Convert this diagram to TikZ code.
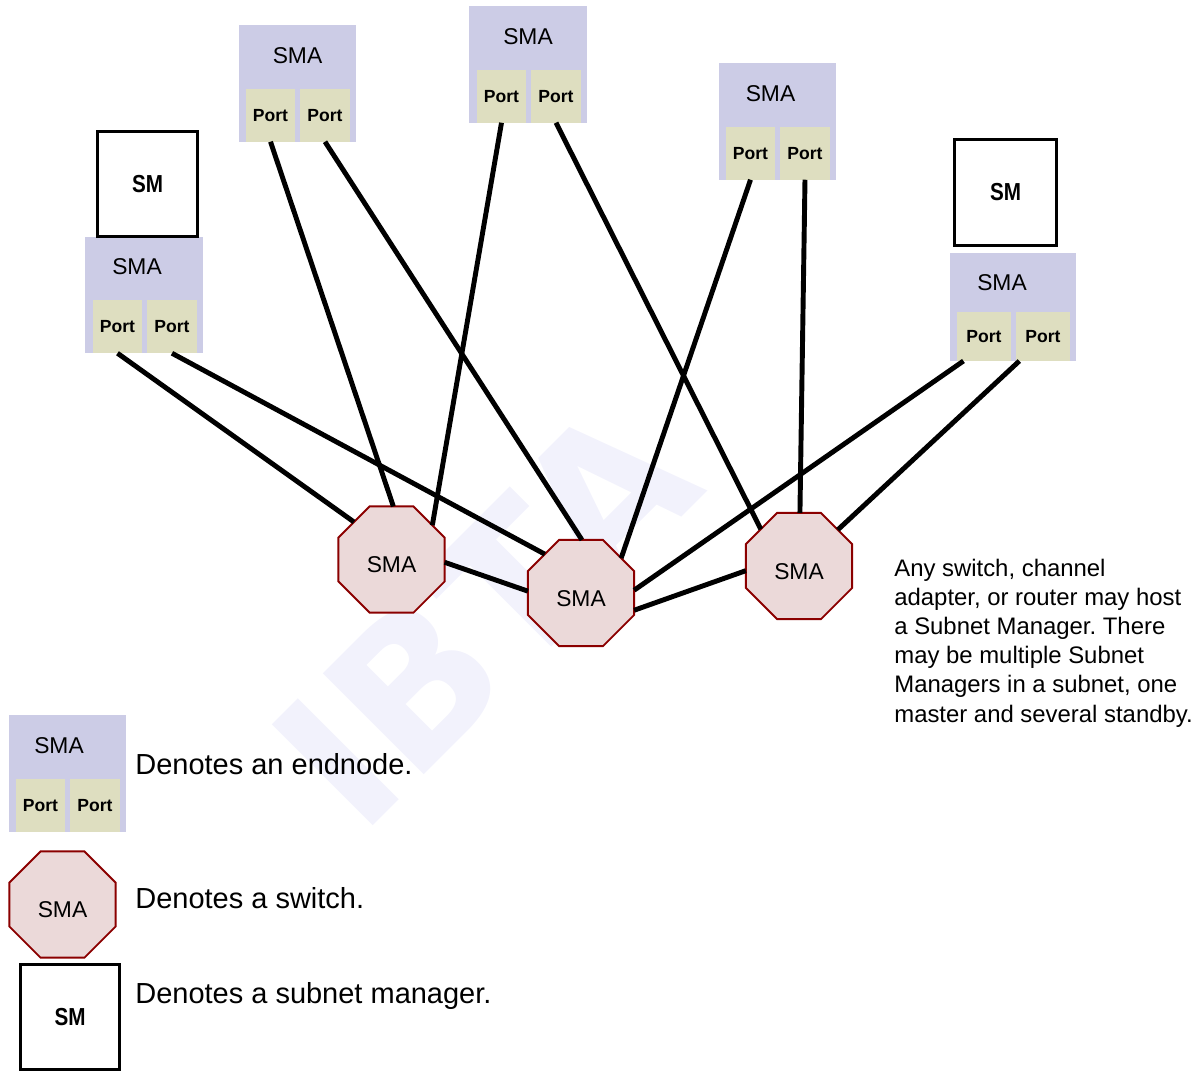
\documentclass[tikz,border=0pt]{standalone}
\usepackage{fontspec}
\setmainfont{Liberation Sans}
\newfontfamily\wmfont{DejaVu Sans}
\usepackage{graphicx}
\usetikzlibrary{positioning,shapes.geometric}
\frenchspacing

\definecolor{enlav}{RGB}{204,204,230}
\definecolor{portbg}{RGB}{222,222,192}
\definecolor{swfill}{RGB}{235,217,217}
\definecolor{swline}{RGB}{139,0,0}
\definecolor{wmark}{RGB}{242,242,252}

\tikzset{
    endnode/.style={fill=enlav, inner sep=0pt, outer sep=0pt, minimum width=2.35cm, minimum height=2.33cm},
    port/.style={fill=portbg, inner sep=0pt, outer sep=0pt, minimum width=0.99cm, minimum height=1.06cm, font=\bfseries\fontsize{10}{12}\selectfont},
    smalabel/.style={inner sep=0pt, font=\fontsize{13}{15}\selectfont},
    switch/.style={regular polygon, regular polygon sides=8, minimum size=2.3cm, inner sep=0pt, outer sep=0pt, draw=swline, line width=1.1pt, fill=swfill, text height=15pt, text depth=0pt, font=\fontsize{13}{15}\selectfont},
    smbox/.style={draw, line width=1.7pt, inner sep=0pt, minimum width=2.0cm, minimum height=2.1cm, font=\bfseries\fontsize{14}{16}\selectfont},
    link/.style={line width=2.8pt},
    legend/.style={anchor=base west, inner sep=0pt, font=\fontsize{16.5}{20}\selectfont}
}

\begin{document}
\begin{tikzpicture}[x=0.02cm, y=-0.02cm]
    \useasboundingbox (0,0) rectangle (1201,1072);
    \node[rotate=45, inner sep=0pt, text=wmark, font=\wmfont\bfseries\fontsize{111.5}{112}\selectfont] (wm) at (484,614) {IBTA};

    % endnodes
    \node[endnode] (e1) at (144,295) {};
        \node[port, above right=0cm and 0.15cm of e1.south west] (e1a) {Port};
        \node[port, right=0.1cm of e1a] (e1b) {Port};
        \node[smalabel] (e1t) at ([xshift=-0.14cm, yshift=-0.6cm]e1.north) {SMA};
    \node[endnode] (e2) at (297.5,83.5) {};
        \node[port, above right=0cm and 0.14cm of e2.south west] (e2a) {Port};
        \node[port, right=0.1cm of e2a] (e2b) {Port};
        \node[smalabel] (e2t) at ([yshift=-0.6cm]e2.north) {SMA};
    \node[endnode] (e3) at (528,64.5) {};
        \node[port, above right=0cm and 0.15cm of e3.south west] (e3a) {Port};
        \node[port, right=0.1cm of e3a] (e3b) {Port};
        \node[smalabel] (e3t) at ([yshift=-0.6cm]e3.north) {SMA};
    \node[endnode] (e4) at (777.5,121.5) {};
        \node[port, above right=0cm and 0.14cm of e4.south west] (e4a) {Port};
        \node[port, right=0.1cm of e4a] (e4b) {Port};
        \node[smalabel] (e4t) at ([xshift=-0.14cm, yshift=-0.6cm]e4.north) {SMA};
    \node[endnode, minimum width=2.52cm, minimum height=2.16cm] (e5) at (1013,307) {};
        \node[port, minimum width=1.08cm, minimum height=0.98cm, above right=0cm and 0.14cm of e5.south west] (e5a) {Port};
        \node[port, minimum width=1.08cm, minimum height=0.98cm, right=0.1cm of e5a] (e5b) {Port};
        \node[smalabel] (e5t) at ([xshift=-0.22cm, yshift=-0.6cm]e5.north) {SMA};

    % subnet managers
    \node[smbox] (sm1) at (147.5,184) {\scalebox{0.84}[1]{SM}};
    \node[smbox, minimum width=2.04cm, minimum height=2.12cm] (sm5) at (1005.5,192.5) {\scalebox{0.84}[1]{SM}};

    % switches
    \node[switch] (sw1) at (391.5,559.5) {SMA};
    \node[switch] (sw2) at (581,593) {SMA};
    \node[switch] (sw3) at (799,566) {SMA};

    \draw[link] (e1a.south) -- (sw1.135);
    \draw[link] (e1b.south) -- (sw2.133);
    \draw[link] (e2a.south) -- (sw1.88);
    \draw[link] (e2b.south) -- (sw2.89);
    \draw[link] (e3a.south) -- (sw1.40);
    \draw[link] (e3b.south) -- (sw3.136);
    \draw[link] (e4a.south) -- (sw2.41);
    \draw[link] (e4b.south) -- (sw3.89);
    \draw[link] (e5a.-130) -- (sw2.3);
    \draw[link] (e5b.-134) -- (sw3.43);
    \draw[link] (sw1.-3) -- (sw2.178);
    \draw[link] (sw2.-18) -- (sw3.185);

    \node[anchor=north west, inner sep=0pt, align=left, font=\fontsize{13.6}{16.6}\selectfont] (note) at (894,558.5)
        {Any switch, channel\\adapter, or router may host\\a Subnet Manager. There\\may be multiple Subnet\\Managers in a subnet, one\\master and several standby.};

    % legend
    \node[endnode] (le) at (67.5,773.5) {};
        \node[port, above right=0cm and 0.14cm of le.south west] (lea) {Port};
        \node[port, right=0.1cm of lea] (leb) {Port};
        \node[smalabel] (let) at ([xshift=-0.17cm, yshift=-0.6cm]le.north) {SMA};
    \node[legend] (lt1) at (135,774.5) {Denotes an endnode.};
    \node[switch] (lsw) at (62.5,904.5) {SMA};
    \node[legend] (lt2) at (135,908) {Denotes a switch.};
    \node[smbox] (lsm) at (70,1017) {\scalebox{0.84}[1]{SM}};
    \node[legend] (lt3) at (135,1003) {Denotes a subnet manager.};
\end{tikzpicture}
\end{document}
